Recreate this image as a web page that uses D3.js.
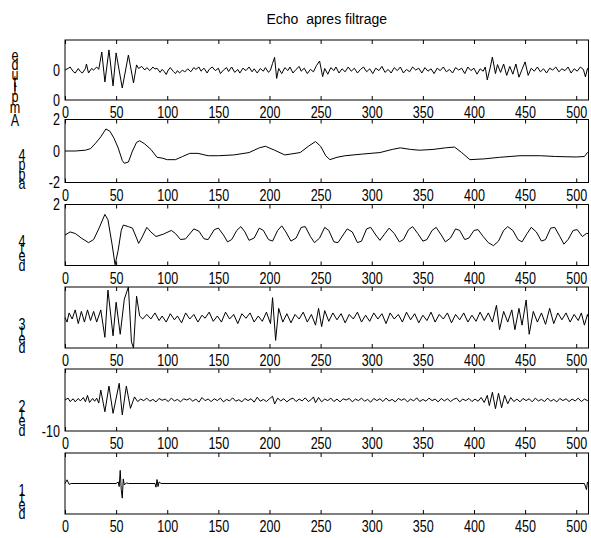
<!DOCTYPE html>
<html>
<head>
<meta charset="utf-8">
<script src="https://cdn.jsdelivr.net/npm/d3@7"></script>
<style>
  body { margin: 0; background: #fff; }
  text { font-family: "Liberation Sans", Arial, sans-serif; fill: #000; }
</style>
</head>
<body>
<svg id="chart" width="591" height="538"></svg>
<script>
// sample axis shared by all subplots
const xDomain = [0, 512];
const xTicks = [0, 50, 100, 150, 200, 250, 300, 350, 400, 450, 500];
const titleText = "Echo  apres filtrage";

// subplot labels, top to bottom
const panelLabels = ["Amplitude", "app4", "det4", "det3", "det2", "det1"];
const yDomains = [[-1, 1], [-2, 2], [-2, 2], [-2, 2], [-10, 10], [-1, 1]];
const yTickValues = [[0, -1], [2, 0, -2], [2], [], [-10], []];
const yTickLabels = [["0", "0"], ["2", "0", "-2"], ["2"], [], ["-10"], []];

// [sample, value] (peaks and troughs)
const echo = [[0,0],[3,0.05],[5,0.1],[8,-0.05],[10,-0.1],[13,0.05],[15,-0.05],[17,-0.1],[20,0.05],[21,0.2],[23,-0.1],[26,0.05],[28,0],[31,0.1],[33,0.02],[36,0.6],[39,-0.4],[43,0.67],[47,-0.53],[50,0.57],[56,-0.6],[62,0.5],[67,-0.43],[70,0.17],[72,0.05],[75,0.12],[78,0.0],[80,0.08],[83,-0.02],[86,0.1],[88,0.03],[90,0.06],[93,-0.08],[95,0.02],[97,-0.05],[99,-0.15],[101,0.0],[103,0.08],[106,-0.05],[108,-0.12],[110,-0.02],[112,-0.1],[115,0.0],[117,-0.07],[120,0.04],[123,-0.06],[126,0.08],[128,0.02],[131,0.1],[133,-0.04],[136,0.06],[139,-0.1],[141,0.02],[144,0.1],[147,-0.02],[150,0.06],[152,-0.12],[155,0.0],[158,0.08],[160,-0.05],[163,0.1],[166,-0.08],[169,0.02],[171,-0.1],[174,0.06],[177,-0.02],[180,0.1],[183,-0.06],[185,0.04],[188,-0.1],[191,0.05],[194,-0.04],[196,0.08],[199,-0.08],[201,0.0],[203,0.22],[205,0.42],[207,-0.28],[209,0.05],[212,-0.12],[215,0.08],[218,-0.02],[220,0.1],[223,-0.1],[226,0.02],[229,0.12],[231,-0.04],[234,0.06],[237,-0.12],[240,0.02],[243,-0.06],[246,0.15],[249,0.3],[252,-0.22],[254,0.05],[257,-0.14],[260,0.08],[263,-0.02],[265,0.1],[268,-0.1],[271,0.04],[274,-0.06],[277,0.1],[280,-0.04],[283,0.06],[286,-0.1],[289,0.02],[292,0.1],[295,-0.06],[298,0.04],[301,-0.12],[304,0.06],[307,-0.02],[310,0.12],[313,-0.08],[316,0.02],[319,-0.1],[322,0.08],[325,-0.02],[328,0.1],[331,-0.1],[334,0.02],[337,-0.06],[340,0.1],[343,0.0],[346,0.06],[349,-0.1],[352,0.08],[355,-0.04],[358,0.04],[361,-0.12],[364,0.06],[367,-0.02],[370,0.1],[373,-0.06],[376,0.02],[379,-0.1],[382,0.08],[385,0.0],[388,0.06],[391,-0.12],[394,0.1],[397,-0.02],[400,0.06],[403,-0.14],[406,0.04],[409,-0.04],[411,0.1],[413,-0.33],[416,0.1],[418,0.43],[421,-0.12],[423,0.18],[426,-0.08],[429,0.2],[432,-0.18],[435,0.12],[438,-0.14],[441,0.2],[444,-0.24],[447,0.02],[450,0.27],[453,-0.18],[456,0.06],[459,-0.04],[462,0.1],[465,-0.06],[468,0.04],[471,-0.1],[474,0.06],[477,0.0],[480,0.1],[483,-0.06],[486,0.04],[489,-0.02],[492,0.1],[495,-0.1],[498,0.04],[501,-0.04],[504,0.1],[507,0.02],[509,-0.23],[511,0.05],[512,0]];

const app4 = [[0,0],[10,0],[20,0.05],[25,0.15],[30,0.5],[35,0.9],[40,1.4],[44,1.25],[48,0.8],[52,0.2],[56,-0.6],[58,-0.78],[62,-0.7],[66,0],[70,0.55],[73,0.65],[78,0.45],[84,0.1],[90,-0.4],[95,-0.45],[100,-0.55],[108,-0.55],[115,-0.35],[122,-0.15],[130,-0.15],[140,-0.3],[150,-0.3],[165,-0.25],[180,-0.1],[190,0.2],[196,0.3],[205,0.05],[215,-0.25],[230,-0.1],[238,0.3],[245,0.6],[250,0.3],[255,-0.3],[259,-0.55],[266,-0.4],[274,-0.3],[290,-0.2],[308,-0.1],[320,0.1],[328,0.2],[338,0.1],[347,0.05],[360,0.1],[372,0.2],[381,0.25],[388,-0.1],[396,-0.55],[410,-0.5],[425,-0.4],[445,-0.3],[465,-0.3],[480,-0.35],[500,-0.38],[508,-0.35],[511,-0.1],[512,-0.1]];

const det4 = [[0,0],[5,0.2],[10,0.1],[16,-0.2],[23,-0.5],[28,-0.3],[33,0.4],[39,1.35],[42,1.0],[46,-0.6],[49,-1.95],[52,-1.0],[55,0.3],[57,0.65],[62,0.55],[66,0.45],[70,-0.2],[72,-0.55],[75,-0.2],[80,0.5],[84,0.2],[89,-0.1],[96,0.05],[104,0.3],[108,0.1],[113,-0.3],[118,-0.25],[126,0.4],[131,0.25],[136,-0.25],[140,-0.3],[146,0.35],[150,0.45],[155,0.0],[159,-0.45],[163,-0.3],[168,0.3],[172,0.55],[176,0.2],[180,-0.35],[185,-0.2],[190,0.45],[194,0.3],[199,-0.3],[203,-0.4],[208,0.3],[212,0.6],[216,0.2],[221,-0.4],[226,-0.2],[231,0.5],[235,0.55],[240,-0.1],[244,-0.5],[249,-0.2],[254,0.5],[258,0.3],[263,-0.45],[267,-0.5],[272,0.0],[276,0.4],[281,0.2],[286,-0.5],[290,-0.4],[295,0.4],[299,0.5],[304,0.0],[308,-0.35],[313,0.1],[317,0.45],[322,0.1],[327,-0.45],[331,-0.3],[336,0.35],[340,0.55],[345,0.1],[350,-0.4],[354,-0.3],[359,0.3],[363,0.5],[368,0.0],[372,-0.45],[377,-0.2],[382,0.4],[386,0.3],[391,-0.3],[395,-0.2],[400,0.3],[404,0.35],[409,-0.1],[414,-0.5],[419,-0.7],[424,-0.4],[429,0.3],[433,0.55],[438,0.3],[443,-0.3],[447,-0.45],[452,0.1],[456,0.5],[461,0.2],[466,-0.4],[470,-0.3],[475,0.45],[479,0.5],[484,-0.1],[488,-0.6],[492,-0.3],[497,0.3],[501,0.35],[506,-0.1],[510,0.1],[512,0.1]];

const det3 = [[0,0],[2,-0.3],[4,0.3],[7,-0.1],[10,0.5],[13,-0.4],[16,0.4],[19,-0.3],[22,0.5],[25,-0.2],[28,0.4],[31,-0.3],[35,0.5],[39,-1.3],[42,1.8],[47,-1.2],[50,1.0],[54,-1.1],[58,1.2],[62,2.0],[65,-1.6],[67,-2.0],[70,1.4],[73,0.1],[76,-0.1],[80,0.2],[84,-0.1],[88,0.3],[92,-0.2],[95,0.1],[99,-0.3],[103,0.25],[107,-0.15],[110,0.1],[114,-0.35],[118,0.3],[122,-0.1],[126,0.2],[130,-0.3],[134,0.15],[137,-0.05],[141,0.35],[145,-0.25],[149,0.1],[153,-0.3],[157,0.35],[161,-0.1],[165,0.2],[169,-0.4],[173,0.25],[177,-0.05],[181,0.3],[185,-0.3],[189,0.1],[193,-0.25],[197,0.35],[201,-0.4],[203,1.3],[206,-1.5],[209,0.6],[213,-0.3],[217,0.25],[221,-0.35],[225,0.2],[229,-0.1],[233,0.35],[237,-0.3],[241,0.2],[245,-0.5],[248,0.6],[251,-0.6],[254,0.45],[258,-0.25],[262,0.3],[266,-0.15],[270,0.25],[274,-0.35],[278,0.2],[282,-0.1],[286,0.35],[290,-0.3],[294,0.15],[298,-0.25],[302,0.3],[306,-0.1],[310,0.25],[314,-0.4],[318,0.3],[322,-0.1],[326,0.2],[330,-0.3],[334,0.35],[338,-0.15],[342,0.25],[346,-0.35],[350,0.15],[354,-0.2],[358,0.35],[362,-0.3],[366,0.2],[370,-0.1],[374,0.3],[378,-0.35],[382,0.2],[386,-0.15],[390,0.3],[394,-0.3],[398,0.15],[402,-0.25],[406,0.35],[410,-0.2],[414,0.3],[418,-0.3],[422,0.8],[425,-0.8],[429,0.4],[433,-0.3],[437,0.5],[440,-0.8],[444,0.6],[447,-0.5],[451,1.15],[454,-1.1],[458,0.4],[462,-0.3],[466,0.3],[470,-0.45],[474,0.6],[478,-0.4],[482,0.3],[486,-0.15],[490,0.3],[494,-0.3],[498,0.2],[502,-0.2],[505,0.3],[508,-0.5],[511,0.2],[512,0]];

const det2 = [[0,0],[3,0.6],[5,-0.5],[8,0.4],[10,-0.6],[13,0.5],[15,-0.3],[18,0.8],[20,-0.6],[22,1.5],[24,-0.8],[27,0.5],[29,-0.4],[31,0.6],[33,-1.0],[35,3.2],[39,-3.8],[43,4.5],[47,-4.3],[53,5.4],[56,-4.8],[60,4.5],[64,-2.7],[68,1.0],[71,-0.5],[74,0.3],[77,-0.2],[80,0.6],[83,-0.4],[86,0.2],[89,-0.6],[92,0.5],[95,-0.1],[98,0.3],[101,-0.5],[104,0.6],[107,-0.3],[110,0.2],[113,-0.6],[116,0.4],[119,0.0],[122,0.5],[125,-0.4],[128,0.3],[131,-0.7],[134,0.8],[137,-0.2],[140,0.3],[143,-0.5],[146,0.4],[149,-0.2],[152,0.6],[155,-0.6],[158,0.2],[161,-0.3],[164,0.7],[167,-0.4],[170,0.1],[173,-0.6],[176,0.5],[179,-0.2],[182,0.4],[185,-0.7],[188,0.9],[191,-0.4],[194,0.2],[197,-0.5],[200,0.4],[203,1.2],[205,-1.3],[208,0.6],[211,-0.3],[214,0.4],[217,-0.6],[220,0.2],[223,0.6],[226,-0.5],[229,0.3],[232,-0.3],[235,0.7],[238,-0.5],[241,0.2],[243,1.0],[245,-0.9],[248,0.8],[251,-0.6],[254,0.3],[257,-0.2],[260,0.6],[263,-0.5],[266,0.3],[269,-0.6],[272,0.4],[275,0.0],[278,0.5],[281,-0.6],[284,0.3],[287,-0.2],[290,0.6],[293,-0.4],[296,0.2],[299,-0.7],[302,0.5],[305,-0.2],[308,0.4],[311,-0.5],[314,0.6],[317,-0.3],[320,0.2],[323,-0.6],[326,0.5],[329,-0.1],[332,0.4],[335,-0.6],[338,0.3],[341,-0.3],[344,0.7],[347,-0.5],[350,0.2],[353,-0.4],[356,0.6],[359,-0.2],[362,0.3],[365,-0.6],[368,0.5],[371,-0.3],[374,0.4],[377,-0.5],[380,0.2],[383,0.6],[386,-0.6],[389,0.3],[392,-0.2],[395,0.5],[398,-0.5],[401,0.3],[404,-0.4],[407,0.8],[410,-0.8],[413,1.5],[415,-1.8],[418,2.5],[421,-2.8],[424,2.2],[427,-2.5],[430,1.5],[433,-1.2],[436,0.8],[439,-0.5],[442,0.3],[445,-0.6],[448,0.5],[451,-0.2],[454,0.4],[457,-0.6],[460,0.6],[463,-0.3],[466,0.2],[469,-0.5],[472,0.6],[475,-0.4],[478,0.2],[481,-0.6],[484,0.5],[487,-0.2],[490,0.4],[493,-0.5],[496,0.3],[499,-0.3],[502,0.6],[505,-0.5],[508,0.3],[511,-0.2],[512,0]];

const det1 = [[0,0],[2,0.12],[4,-0.03],[6,0],[50,0],[52,0.05],[53,-0.1],[54,0.43],[55,-0.2],[56,-0.48],[57,0.15],[58,-0.05],[60,0.02],[62,0],[88,0],[89,-0.12],[90,0.13],[91,-0.1],[92,0.05],[94,0],[508,0],[510,-0.2],[511,0.05],[512,0]];

const series = [echo, app4, det4, det3, det2, det1];

// layout (pixels)
const left = 65, right = 588.5;
const panelTop = [40, 119.5, 204.5, 287, 369, 453];
const panelBottom = [100, 182.5, 265.5, 348, 431, 514];
const fontSize = 17, squeeze = 0.74;

const svg = d3.select("#chart");
const x = d3.scaleLinear().domain(xDomain).range([left, right]);

svg.append("text")
  .attr("x", (left + right) / 2)
  .attr("y", 24)
  .attr("text-anchor", "middle")
  .attr("font-size", 14)
  .style("white-space", "pre")
  .text(titleText);

// measure glyph advances for the stacked y labels
const probe = svg.append("text").attr("font-size", fontSize);
function advance(ch) {
  probe.text(ch);
  return probe.node().getComputedTextLength();
}

function stackedLabel(str, cx, cy) {
  const widths = Array.from(str).map(advance);
  const total = d3.sum(widths);
  let cum = 0;
  const g = svg.append("g");
  Array.from(str).forEach((ch, i) => {
    const mid = cy + total / 2 - cum - widths[i] / 2;
    cum += widths[i];
    g.append("g")
      .attr("transform", `translate(${cx},${mid}) scale(${squeeze},1)`)
      .append("text")
      .attr("text-anchor", "middle")
      .attr("dy", "0.35em")
      .attr("font-size", fontSize)
      .text(ch);
  });
}

series.forEach((data, i) => {
  const top = panelTop[i], bottom = panelBottom[i];
  const y = d3.scaleLinear().domain(yDomains[i]).range([bottom, top]);
  const g = svg.append("g");

  // the trace
  g.append("path")
    .datum(data)
    .attr("fill", "none")
    .attr("stroke", "#000")
    .attr("stroke-width", 1)
    .attr("d", d3.line().x(d => x(d[0])).y(d => y(d[1])));

  // frame
  g.append("rect")
    .attr("x", left).attr("y", top)
    .attr("width", right - left).attr("height", bottom - top)
    .attr("fill", "none").attr("stroke", "#000");

  // inward ticks top and bottom
  const axB = g.append("g")
    .attr("transform", `translate(0,${bottom})`)
    .call(d3.axisBottom(x).tickValues(xTicks).tickSize(-4).tickPadding(6));
  axB.select(".domain").remove();
  axB.attr("font-family", null);
  axB.selectAll("text")
    .attr("font-size", fontSize)
    .attr("transform", `scale(${squeeze},1)`);

  const axT = g.append("g")
    .attr("transform", `translate(0,${top})`)
    .call(d3.axisTop(x).tickValues(xTicks).tickSize(-4).tickFormat(""));
  axT.select(".domain").remove();

  // y tick labels
  yTickValues[i].forEach((v, k) => {
    g.append("g")
      .attr("transform", `translate(${left - 5},${y(v)}) scale(${squeeze},1)`)
      .append("text")
      .attr("text-anchor", "end")
      .attr("dy", "0.35em")
      .attr("font-size", fontSize)
      .text(yTickLabels[i][k]);
  });

  const cx = i === 0 ? 15 : 22;
  stackedLabel(panelLabels[i], cx, (top + bottom) / 2 + 18);
});

probe.remove();
</script>
</body>
</html>
